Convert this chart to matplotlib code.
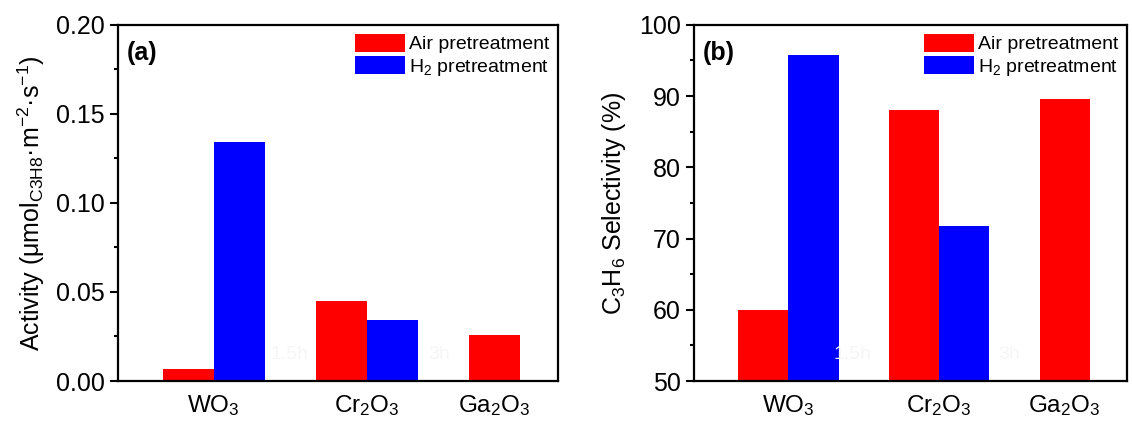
import numpy as np
import matplotlib.pyplot as plt

plt.rcParams['font.family'] = ['Liberation Sans', 'DejaVu Sans']
plt.rcParams['mathtext.default'] = 'regular'

categories = ['WO$_3$', 'Cr$_2$O$_3$', 'Ga$_2$O$_3$']
series = ['Air pretreatment', 'H$_2$ pretreatment']
activity_air = [0.007, 0.045, 0.026]
activity_h2 = [0.134, 0.034]
selectivity_air = [60.0, 88.0, 89.6]
selectivity_h2 = [95.8, 71.8]
hidden_labels = ['1.5h', '3h']

# bar layout (air left of group centre, H2 right; Ga2O3 has only air)
air_pos = [1.5, 4.5, 7.5]
h2_pos = [2.5, 5.5]
tick_pos = [2.0, 5.0, 7.5]
red = '#ff0000'
blue = '#0000ff'


def style_axes(ax, ylim, yticks, minor):
    ax.set_xlim(0.12, 8.75)
    ax.set_ylim(*ylim)
    ax.set_yticks(yticks)
    ax.set_yticks(minor, minor=True)
    ax.set_xticks(tick_pos)
    ax.set_xticklabels(categories)
    ax.tick_params(axis='x', length=0, labelsize=17.5, pad=9)
    ax.tick_params(axis='y', which='major', direction='out', length=6, width=1.5, labelsize=18)
    ax.tick_params(axis='y', which='minor', direction='out', length=3, width=1.5)
    for sp in ax.spines.values():
        sp.set_linewidth(1.6)


def add_legend(ax):
    ax.legend(loc='upper right', frameon=False, fontsize=14, handlelength=2.6,
              handleheight=1.05, handletextpad=0.2, labelspacing=0.15,
              borderaxespad=0.15, borderpad=0.3)


fig = plt.figure(figsize=(11.32, 4.21), dpi=100)
ax1 = fig.add_axes([0.104, 0.095, 0.389, 0.846])
ax2 = fig.add_axes([0.613, 0.095, 0.383, 0.846])

# (a) activity
ax1.bar(air_pos, activity_air, width=1.0, color=red, label=series[0])
ax1.bar(h2_pos, activity_h2, width=1.0, color=blue, label=series[1])
style_axes(ax1, (0, 0.2), np.arange(0, 0.201, 0.05), np.arange(0.025, 0.2, 0.05))
ax1.yaxis.set_major_formatter(plt.FormatStrFormatter('%.2f'))
ax1.set_ylabel('Activity ($\\mu$mol$_{C3H8}$·m$^{-2}$·s$^{-1}$)', fontsize=18,
               labelpad=6)
ax1.text(0.02, 0.955, '(a)', transform=ax1.transAxes, fontsize=18,
         fontweight='bold', va='top')
add_legend(ax1)
for lab, xf in zip(hidden_labels, [0.39, 0.73]):
    ax1.text(xf, 0.075, lab, transform=ax1.transAxes, color='#f6f6f6',
             fontsize=14, ha='center', va='center')

# (b) selectivity
ax2.bar(air_pos, selectivity_air, width=1.0, color=red, label=series[0])
ax2.bar(h2_pos, selectivity_h2, width=1.0, color=blue, label=series[1])
style_axes(ax2, (50, 100), np.arange(50, 101, 10), np.arange(55, 100, 10))
ax2.set_ylabel('C$_3$H$_6$ Selectivity (%)', fontsize=18, labelpad=8)
ax2.text(0.02, 0.955, '(b)', transform=ax2.transAxes, fontsize=18,
         fontweight='bold', va='top')
add_legend(ax2)
for lab, xf in zip(hidden_labels, [0.366, 0.728]):
    ax2.text(xf, 0.075, lab, transform=ax2.transAxes, color='#f6f6f6',
             fontsize=14, ha='center', va='center')

fig.savefig('out.png', dpi=100)
